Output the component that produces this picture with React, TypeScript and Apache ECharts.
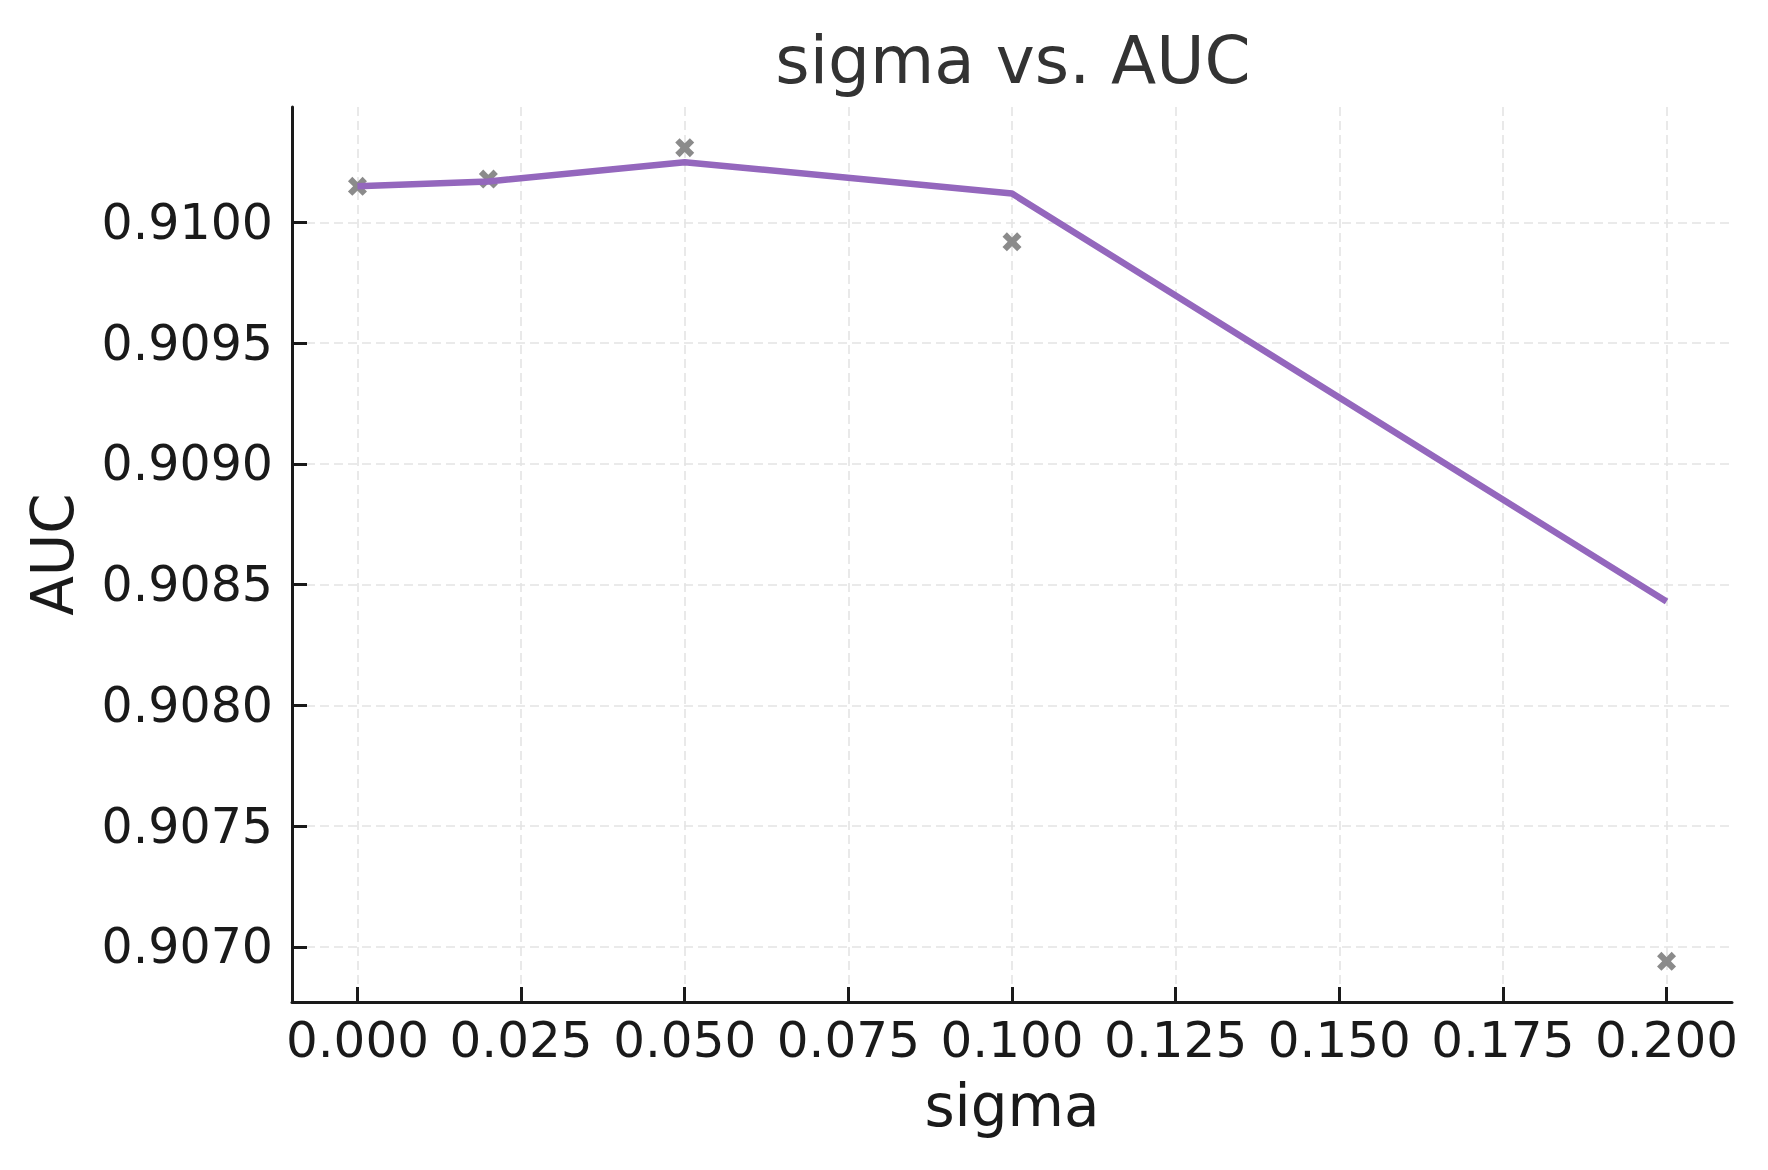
import React, { useEffect, useRef } from "react";
import * as echarts from "echarts";

const sigmaValues = [0, 0.02, 0.05, 0.1, 0.2];
const aucObserved = [0.91015, 0.91018, 0.91031, 0.90992, 0.90694];
const aucTrend = [0.91015, 0.91017, 0.91025, 0.91012, 0.90843];
const xTicks = [0, 0.025, 0.05, 0.075, 0.1, 0.125, 0.15, 0.175, 0.2];
const yTicks = [0.907, 0.9075, 0.908, 0.9085, 0.909, 0.9095, 0.91];

const FONT = "DejaVu Sans";
const INK = "#1a1a1a";
const X_MARK =
  "path://M2.3,0 L5,2.7 L7.7,0 L10,2.3 L7.3,5 L10,7.7 L7.7,10 L5,7.3 L2.3,10 L0,7.7 L2.7,5 L0,2.3 Z";

export default function App() {
  const ref = useRef<HTMLDivElement>(null);

  useEffect(() => {
    if (!ref.current) return;
    const chart = echarts.init(ref.current, undefined, { renderer: "svg" });

    const allY = [...aucObserved, ...aucTrend];
    const yLo = Math.min(...allY);
    const yHi = Math.max(...allY);
    const yPad = (yHi - yLo) * 0.05;
    const xLo = Math.min(...sigmaValues);
    const xHi = Math.max(...sigmaValues);
    const xPad = (xHi - xLo) * 0.05;

    const gridLeft = 292;
    const gridRight = 36;
    const gridTop = 107;
    const gridBottom = 168;
    const plotCenterX = gridLeft + (1768 - gridLeft - gridRight) / 2;

    const splitLine = {
      show: true,
      lineStyle: { color: "#e4e4e4", width: 1.6, type: [9, 5] as any },
    };

    chart.setOption({
      animation: false,
      backgroundColor: "#ffffff",
      textStyle: { fontFamily: FONT },
      graphic: [
        {
          type: "text",
          x: plotCenterX + 1,
          y: 60,
          style: {
            text: "sigma vs. AUC",
            textAlign: "center",
            textVerticalAlign: "middle",
            fontFamily: FONT,
            fontSize: 66,
            fill: "#333333",
          },
        },
      ],
      grid: {
        left: gridLeft,
        right: gridRight,
        top: gridTop,
        bottom: gridBottom,
        containLabel: false,
      },
      xAxis: {
        type: "value",
        min: xLo - xPad,
        max: xHi + xPad,
        name: "sigma",
        nameLocation: "middle",
        nameGap: 75,
        nameTextStyle: { fontFamily: FONT, fontSize: 58, color: INK },
        axisLine: { show: true, onZero: false, lineStyle: { color: INK, width: 3 } },
        axisTick: {
          show: true,
          inside: true,
          length: 15,
          lineStyle: { color: INK, width: 3 },
          customValues: xTicks,
        },
        axisLabel: {
          show: true,
          margin: 13,
          fontFamily: FONT,
          fontSize: 50,
          color: INK,
          customValues: xTicks,
          formatter: (v: number) => v.toFixed(3),
        },
        splitLine,
      },
      yAxis: {
        type: "value",
        min: yLo - yPad,
        max: yHi + yPad,
        name: "AUC",
        nameLocation: "middle",
        nameGap: 210,
        nameTextStyle: { fontFamily: FONT, fontSize: 58, color: INK },
        axisLine: { show: true, onZero: false, lineStyle: { color: INK, width: 3 } },
        axisTick: {
          show: true,
          inside: true,
          length: 15,
          lineStyle: { color: INK, width: 3 },
          customValues: yTicks,
        },
        axisLabel: {
          show: true,
          margin: 19,
          fontFamily: FONT,
          fontSize: 49,
          color: INK,
          customValues: yTicks,
          formatter: (v: number) => v.toFixed(4),
        },
        splitLine,
      },
      series: [
        {
          name: "observed",
          type: "scatter",
          data: sigmaValues.map((x, i) => [x, aucObserved[i]]),
          symbol: X_MARK,
          symbolSize: 19,
          itemStyle: { color: "#858585", opacity: 0.95 },
          z: 2,
        },
        {
          name: "trend",
          type: "line",
          data: sigmaValues.map((x, i) => [x, aucTrend[i]]),
          showSymbol: false,
          symbol: "none",
          lineStyle: { color: "#9467bd", width: 6.5 },
          z: 3,
        },
      ],
    });

    return () => chart.dispose();
  }, []);

  return (
    <div
      ref={ref}
      style={{ position: "fixed", left: 0, top: 0, width: 1768, height: 1170, background: "#fff" }}
    />
  );
}
